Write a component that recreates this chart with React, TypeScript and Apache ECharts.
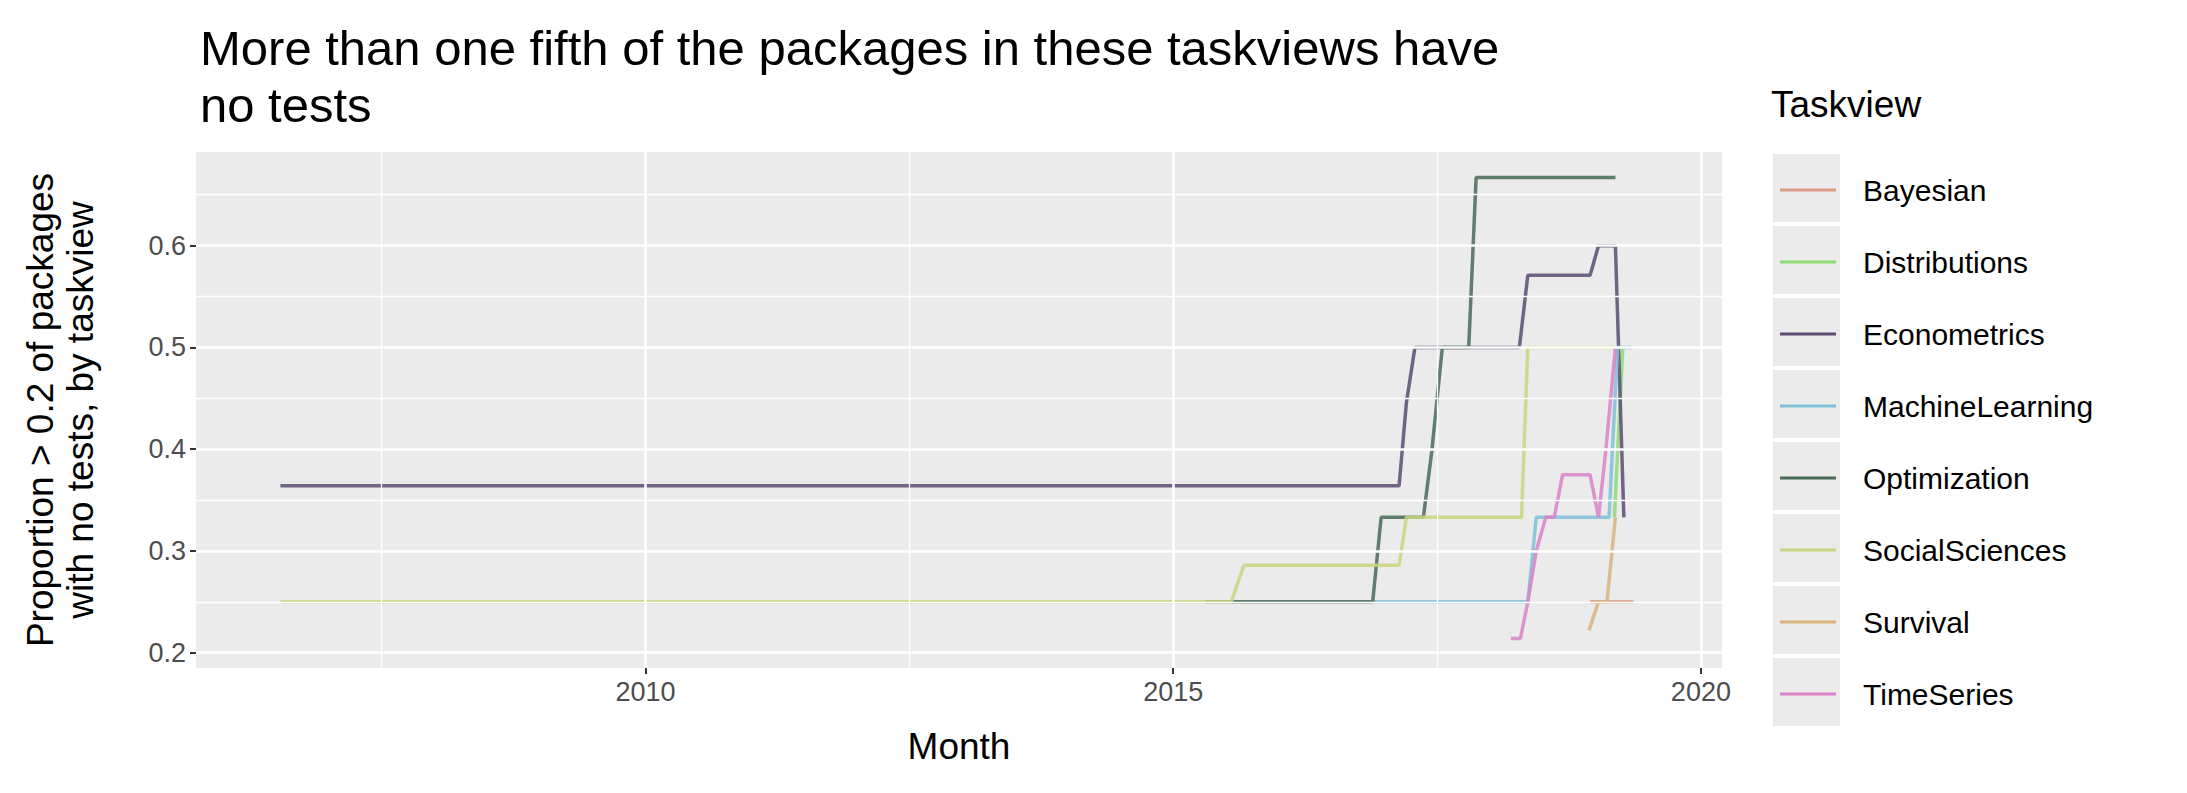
import React, { FC, useEffect, useRef } from "react";
import * as echarts from "echarts";

const taskviews = [
  "Bayesian",
  "Distributions",
  "Econometrics",
  "MachineLearning",
  "Optimization",
  "SocialSciences",
  "Survival",
  "TimeSeries",
];
const colors = ["#dc9c86", "#8fdb74", "#5b4c73", "#80c0d8", "#486a58", "#c9d67f", "#d9b47f", "#d982c8"];

// [year, proportion]
const bayesian = [[2018.95, 0.25], [2019.36, 0.25]];
const distributions = [[2019.18, 0.333], [2019.26, 0.5]];
const econometrics = [
  [2006.54, 0.364], [2017.14, 0.364], [2017.21, 0.446], [2017.29, 0.5], [2018.28, 0.5],
  [2018.36, 0.571], [2018.95, 0.571], [2019.03, 0.6], [2019.19, 0.6], [2019.22, 0.5], [2019.27, 0.333],
];
const machineLearning = [
  [2016.9, 0.25], [2018.36, 0.25], [2018.44, 0.333], [2019.13, 0.333], [2019.21, 0.5], [2019.35, 0.5],
];
const optimization = [
  [2015.3, 0.25], [2016.89, 0.25], [2016.97, 0.333], [2017.37, 0.333], [2017.45, 0.398],
  [2017.55, 0.5], [2017.8, 0.5], [2017.87, 0.667], [2019.19, 0.667],
];
const socialSciences = [
  [2006.54, 0.25], [2015.55, 0.25], [2015.67, 0.286], [2017.14, 0.286], [2017.21, 0.333],
  [2018.3, 0.333], [2018.36, 0.5], [2019.19, 0.5],
];
const survival = [[2018.94, 0.222], [2019.03, 0.25], [2019.11, 0.25], [2019.19, 0.333]];
const timeSeries = [
  [2018.2, 0.214], [2018.29, 0.214], [2018.36, 0.25], [2018.44, 0.3], [2018.53, 0.333],
  [2018.61, 0.333], [2018.69, 0.375], [2018.95, 0.375], [2019.03, 0.333], [2019.1, 0.4], [2019.19, 0.5],
];
const seriesData = [bayesian, distributions, econometrics, machineLearning, optimization, socialSciences, survival, timeSeries];

const xMajor = [2010, 2015, 2020];
const xMinor = [2007.5, 2012.5, 2017.5];
const yMajor = [0.2, 0.3, 0.4, 0.5, 0.6];
const yMinor = [0.25, 0.35, 0.45, 0.55, 0.65];

const App: FC = () => {
  const ref = useRef<HTMLDivElement>(null);

  useEffect(() => {
    document.body.style.margin = "0";
    const chart = echarts.init(ref.current, null, { renderer: "svg" });
    const font = "Liberation Sans";
    const gridLine = (v: number, axis: string, w: number) => ({
      [axis]: v,
      lineStyle: { color: "#ffffff", width: w, type: "solid" },
    });
    chart.setOption({
      animation: false,
      textStyle: { fontFamily: font },
      title: {
        text: "More than one fifth of the packages in these taskviews have\nno tests",
        left: 195,
        top: 14,
        textStyle: { fontSize: 49, fontWeight: "normal", color: "#000", lineHeight: 57 },
      },
      grid: { left: 196, right: 2187 - 1722, top: 152, bottom: 793 - 668, backgroundColor: "#ebebeb", show: true, borderWidth: 0 },
      xAxis: {
        type: "value",
        min: 2005.74,
        max: 2020.2,
        name: "Month",
        nameLocation: "middle",
        nameGap: 60,
        nameTextStyle: { fontSize: 37, color: "#000" },
        splitLine: { show: false },
        axisLine: { show: false },
        axisTick: { show: true, customValues: xMajor, length: 6, lineStyle: { color: "#333", width: 2 } },
        axisLabel: { customValues: xMajor, fontSize: 27, color: "#4d4d4d", margin: 10, formatter: (v: number) => String(v) },
      },
      yAxis: {
        type: "value",
        min: 0.185,
        max: 0.692,
        name: "Proportion > 0.2 of packages\nwith no tests, by taskview",
        nameLocation: "middle",
        nameGap: 96,
        nameTextStyle: { fontSize: 37, color: "#000", lineHeight: 40 },
        splitLine: { show: false },
        axisLine: { show: false },
        axisTick: { show: true, customValues: yMajor, length: 6, lineStyle: { color: "#333", width: 2 } },
        axisLabel: { customValues: yMajor, fontSize: 27, color: "#4d4d4d", margin: 10, formatter: (v: number) => v.toFixed(1) },
      },
      legend: {
        orient: "vertical",
        left: 1780,
        top: 173,
        itemWidth: 56,
        itemHeight: 3,
        itemGap: 38,
        icon: "rect",
        padding: 0,
        textStyle: { fontSize: 30, color: "#000", lineHeight: 34, padding: [0, 0, 0, 22] },
        data: taskviews,
      },
      graphic: [
        { type: "text", left: 1771, top: 86, style: { text: "Taskview", fontSize: 37, fill: "#000", fontFamily: font } },
        ...taskviews.map((_, i) => ({
          type: "rect",
          shape: { x: 1773, y: 154 + 72 * i, width: 67, height: 68 },
          style: { fill: "#ebebeb" },
          z: -1,
        })),
      ],
      series: [
        {
          type: "line",
          data: [],
          silent: true,
          z: 1,
          markLine: {
            silent: true,
            symbol: "none",
            label: { show: false },
            data: [
              ...xMinor.map((v) => gridLine(v, "xAxis", 1.3)),
              ...xMajor.map((v) => gridLine(v, "xAxis", 2.6)),
              ...yMinor.map((v) => gridLine(v, "yAxis", 1.3)),
              ...yMajor.map((v) => gridLine(v, "yAxis", 2.6)),
            ],
          },
        },
        ...taskviews.map((name, i) => ({
          name,
          type: "line",
          z: 2,
          data: seriesData[i],
          showSymbol: false,
          color: colors[i],
          lineStyle: { width: 3.5, opacity: 0.85 },
        })),
      ],
    });
    return () => chart.dispose();
  }, []);

  return <div ref={ref} style={{ width: 2187, height: 793 }}></div>;
};

export default App;
